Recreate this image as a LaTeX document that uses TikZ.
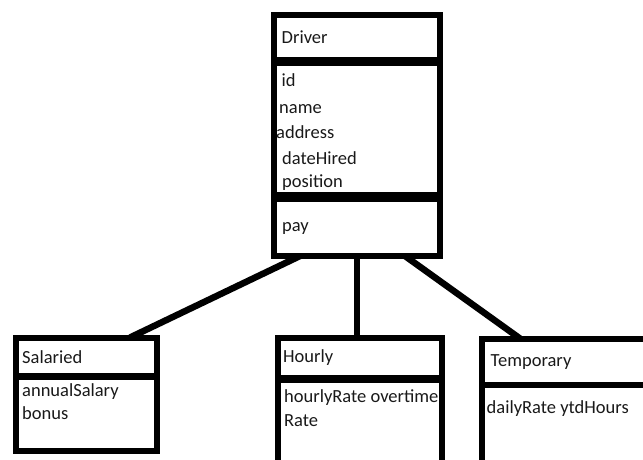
\documentclass[tikz,border=0pt]{standalone}
\usepackage{fontspec}
\setmainfont{Carlito}
\usetikzlibrary{calc}
\begin{document}
\begin{tikzpicture}[x=1pt,y=-1pt,
  box/.style={draw=black,line width=6pt,rectangle,inner sep=0pt,outer sep=0pt},
  conn/.style={draw=black,line width=6.5pt},
  txt/.style={anchor=base west,inner sep=0pt,font=\fontsize{18.5}{20}\selectfont,text=black!90}]
\useasboundingbox (0,0) rectangle (643,459);
% boxes
\node[box,minimum width=166pt,minimum height=241pt] (driver) at (357,135.5) {};
\node[box,minimum width=140.5pt,minimum height=113.5pt] (salaried) at (86.25,394.25) {};
\node[box,minimum width=164pt,minimum height=140pt] (hourly) at (360,407.5) {};
\node[box,minimum width=180pt,minimum height=140pt] (temporary) at (572,408.5) {};
% separators
\draw[line width=9pt] (driver.west |- 0,61.5) -- (driver.east |- 0,61.5);
\draw[line width=10pt] (driver.west |- 0,197) -- (driver.east |- 0,197);
\draw[line width=7pt] (salaried.west |- 0,376.5) -- (salaried.east |- 0,376.5);
\draw[line width=8pt] (hourly.west |- 0,379) -- (hourly.east |- 0,379);
\draw[line width=6.5pt] (temporary.west |- 0,385) -- (temporary.east |- 0,385);
% connectors
\draw[conn] ([xshift=26pt]driver.south west) -- ([xshift=114pt]salaried.north west);
\draw[conn] (driver.south) -- (driver.south |- hourly.north);
\draw[conn] ([xshift=-35pt]driver.south east) -- ([xshift=38pt]temporary.north west);
% texts
\node[txt] (tdriver) at (281.5,43) {Driver};
\node[txt] (tid) at (281.5,86) {id};
\node[txt] (tname) at (279,113) {name};
\node[txt] (taddr) at (276,138) {address};
\node[txt] (tdate) at (282,164) {dateHired};
\node[txt] (tpos) at (282,187) {position};
\node[txt] (tpay) at (282,231) {pay};
\node[txt] (tsal) at (22,363) {Salaried};
\node[txt] (tannual) at (22,396) {annualSalary};
\node[txt] (tbonus) at (22,419) {bonus};
\node[txt] (thourly) at (283,362.5) {Hourly};
\node[txt] (thr) at (284,402.5) {hourlyRate overtime};
\node[txt] (trate) at (284,426) {Rate};
\node[txt] (ttemp) at (490.5,366) {Temporary};
\node[txt] (tdaily) at (486.5,413) {dailyRate ytdHours};
\end{tikzpicture}
\end{document}
